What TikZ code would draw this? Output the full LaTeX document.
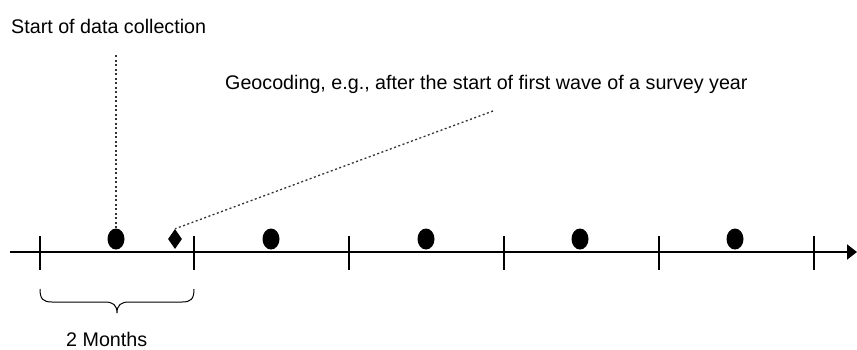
\documentclass[tikz,border=0pt]{standalone}
\usepackage{fontspec}
\setmainfont{Liberation Sans}
\usetikzlibrary{shapes.geometric,arrows.meta}
\begin{document}
\begin{tikzpicture}[x=1pt,y=-1pt,
  lbl/.style={inner sep=0pt,anchor=base west,font=\fontsize{19.7}{23}\selectfont},
  wave/.style={ellipse,fill=black,draw=none,minimum width=17pt,minimum height=21pt,inner sep=0pt},
  geo/.style={diamond,fill=black,draw=none,minimum width=14pt,minimum height=20pt,inner sep=0pt},
  tick/.style={line width=1.4pt},
  axis/.style={line width=2pt,-{Triangle[length=10pt,width=15pt]}},
  dots/.style={line width=1.3pt,dash pattern=on 2pt off 2.5pt,black!80}]
\useasboundingbox (0,0) rectangle (857,349);
% axis
\coordinate (a0) at (10,252);
\coordinate (a1) at (857,252);
\draw[axis] (a0) -- (a1);
% ticks
\foreach \x [count=\i] in {40,194,349,504,659,814}{
  \coordinate (t\i a) at (\x,236);
  \coordinate (t\i b) at (\x,270);
  \draw[tick] (t\i a) -- (t\i b);
}
% waves
\foreach \x [count=\i] in {116,271,426,580,735}{
  \node[wave] (w\i) at (\x,239) {};
}
\node[geo] (g) at (175,239) {};
% labels
\node[lbl] (start) at (11,33) {Start of data collection};
\node[lbl] (geolbl) at (225,89) {Geocoding, e.g., after the start of first wave of a survey year};
\node[lbl] (months) at (66,346) {2 Months};
% dotted connectors
\coordinate (s0) at (116,55);
\draw[dots] (s0) -- (w1.north);
\coordinate (gl) at (493,111);
\draw[dots] (gl) -- (g.north);
% brace
\draw[line width=1pt] (40,289) .. controls (40,299) and (43,302) .. (52,302) -- (105,302)
  .. controls (113,302) and (117,305) .. (117,313)
  .. controls (117,305) and (121,302) .. (129,302) -- (182,302)
  .. controls (191,302) and (194,299) .. (194,289);
\end{tikzpicture}
\end{document}
